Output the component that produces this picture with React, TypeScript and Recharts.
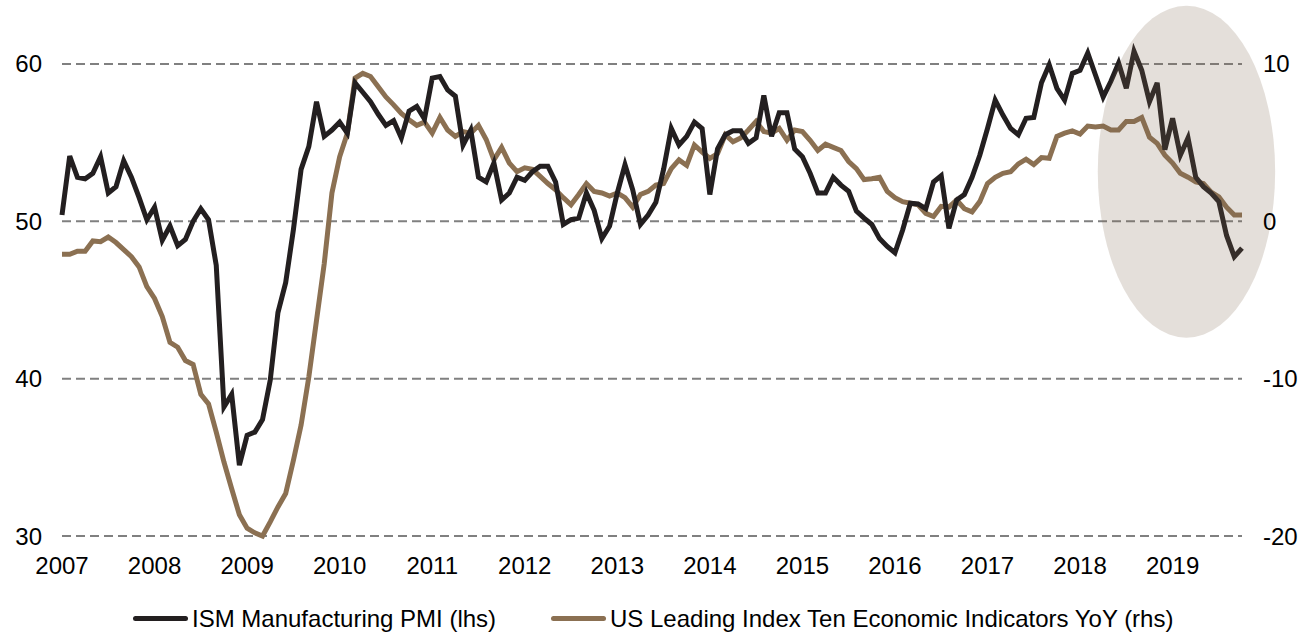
import React from "react";
import { LineChart, Line, XAxis, YAxis, ReferenceLine, ReferenceArea } from "recharts";

// monthly, Jan 2007 .. Oct 2019
const START_YEAR = 2007;
const YEAR_LABELS = ["2007", "2008", "2009", "2010", "2011", "2012", "2013", "2014", "2015", "2016", "2017", "2018", "2019"];

// ISM Manufacturing PMI (lhs)
const pmi = [
  50.4, 54.15, 52.8, 52.7, 53.05, 54.1, 51.8, 52.2, 53.85, 52.8,
  51.5, 50.1, 50.9, 48.8, 49.7, 48.45, 48.85, 50.0, 50.8, 50.1,
  47.2, 38.2, 39.0, 34.5, 36.4, 36.6, 37.4, 39.9, 44.2, 46.1,
  49.45, 53.3, 54.75, 57.6, 55.4, 55.8, 56.3, 55.6, 58.8, 58.2,
  57.6, 56.8, 56.1, 56.4, 55.3, 57.0, 57.3, 56.5, 59.1, 59.2,
  58.35, 57.95, 54.85, 55.8, 52.8, 52.5, 53.7, 51.35, 51.8, 52.8,
  52.6, 53.15, 53.5, 53.5, 52.5, 49.8, 50.1, 50.2, 51.8, 50.7,
  48.9, 49.7, 51.8, 53.6, 52.0, 49.8, 50.4, 51.2, 53.3, 55.9,
  54.85, 55.4, 56.3, 55.9, 51.7, 54.6, 55.5, 55.75, 55.75, 54.95,
  55.3, 58.0, 55.4, 56.9, 56.9, 54.6, 54.1, 53.05, 51.8, 51.8,
  52.8, 52.3, 51.9, 50.65, 50.2, 49.8, 48.9, 48.4, 48.0, 49.45,
  51.15, 51.1, 50.8, 52.5, 52.9, 49.55, 51.35, 51.7, 52.8, 54.2,
  55.9, 57.7, 56.75, 55.9, 55.5, 56.55, 56.6, 58.8, 59.95, 58.45,
  57.7, 59.4, 59.6, 60.7, 59.3, 57.9, 58.9, 60.05, 58.45, 60.8,
  59.6, 57.6, 58.8, 54.55, 56.55, 54.2, 55.3, 52.8, 52.2, 51.8,
  51.25, 49.1, 47.75, 48.3,
];

// US Leading Index Ten Economic Indicators YoY (rhs)
const leading = [
  -2.1, -2.1, -1.9, -1.9, -1.25, -1.3, -1.0, -1.35, -1.8, -2.25,
  -2.9, -4.15, -4.9, -6.05, -7.7, -8.0, -8.85, -9.1, -11.0, -11.6,
  -13.4, -15.3, -17.0, -18.65, -19.5, -19.8, -20.0, -19.1, -18.15, -17.3,
  -15.2, -12.95, -9.9, -6.3, -2.7, 1.8, 4.1, 5.6, 9.1, 9.4,
  9.2, 8.55, 7.9, 7.4, 6.85, 6.45, 6.1, 6.3, 5.6, 6.6,
  5.8, 5.4, 5.7, 5.6, 6.1, 5.2, 3.9, 4.7, 3.7, 3.15,
  3.4, 3.3, 2.85, 2.4, 2.0, 1.5, 1.05, 1.7, 2.4, 1.9,
  1.8, 1.6, 1.8, 1.5, 0.9, 1.7, 1.9, 2.3, 2.4, 3.35,
  3.9, 3.55, 4.85, 4.4, 4.0, 4.3, 5.5, 5.05, 5.3, 5.8,
  6.35, 5.7, 5.6, 5.9, 5.15, 5.8, 5.7, 5.15, 4.5, 4.9,
  4.7, 4.5, 3.8, 3.35, 2.65, 2.7, 2.8, 1.9, 1.5, 1.25,
  1.15, 1.05, 0.5, 0.3, 0.95, 0.9, 1.35, 0.8, 0.6, 1.25,
  2.4, 2.8, 3.05, 3.15, 3.65, 3.95, 3.6, 4.05, 4.0, 5.4,
  5.6, 5.75, 5.55, 6.05, 6.0, 6.05, 5.8, 5.8, 6.35, 6.35,
  6.6, 5.35, 4.95, 4.2, 3.7, 3.05, 2.8, 2.5, 2.4, 1.85,
  1.55, 0.9, 0.4, 0.4,
];

const LEFT_TICKS = [30, 40, 50, 60];
const RIGHT_TICKS = [-20, -10, 0, 10];
const YEAR_TICKS = YEAR_LABELS.map((_, k) => k * 12);

// shaded highlight round the 2018-19 roll-over (month index / lhs units)
const HIGHLIGHT = { x1: 134.3, x2: 157.3, y1: 42.6, y2: 63.7 };

const BLACK = "#231f20";
const TAN = "#8b7052";
const FONT = "'Liberation Sans', Arial, sans-serif";

const data = pmi.map((v, i) => ({ i, pmi: v, leading: leading[i] }));

const Ellipse = (props: any) => {
  const { x, y, width, height } = props;
  return (
    <ellipse
      cx={x + width / 2}
      cy={y + height / 2}
      rx={Math.abs(width) / 2}
      ry={Math.abs(height) / 2}
      fill="#806a4e"
      fillOpacity={0.21}
    />
  );
};

const tickStyle = { fill: "#000", fontSize: 24, fontFamily: FONT };

export default function App() {
  return (
    <div style={{ position: "absolute", left: 0, top: 0, width: 1302, height: 635, background: "#fff", fontFamily: FONT }}>
      <LineChart width={1302} height={635} data={data} margin={{ top: 1, right: 0, left: 0, bottom: 59 }}>
        <XAxis
          type="number"
          dataKey="i"
          domain={[0, 153]}
          ticks={YEAR_TICKS}
          tickFormatter={(t: number) => String(START_YEAR + t / 12)}
          axisLine={false}
          tickLine={false}
          tickSize={0}
          tickMargin={21}
          height={40}
          tick={tickStyle}
          interval={0}
        />
        <YAxis
          yAxisId="left"
          orientation="left"
          domain={[30, 64]}
          ticks={LEFT_TICKS}
          axisLine={false}
          tickLine={false}
          tickSize={0}
          tickMargin={20}
          width={62}
          tick={tickStyle}
          interval={0}
        />
        <YAxis
          yAxisId="right"
          orientation="right"
          domain={[-20, 14]}
          ticks={RIGHT_TICKS}
          axisLine={false}
          tickLine={false}
          tickSize={0}
          tickMargin={21}
          width={60}
          tick={{ ...tickStyle, textAnchor: "start" }}
          interval={0}
        />
        {/* dashed horizontal grid at the lhs ticks */}
        {LEFT_TICKS.map((t) => (
          <ReferenceLine
            key={t}
            yAxisId="left"
            y={t}
            stroke="#808080"
            strokeWidth={2}
            strokeDasharray="9 5"
            zIndex={-100}
          />
        ))}
        <Line
          yAxisId="right"
          type="linear"
          dataKey="leading"
          stroke={TAN}
          strokeWidth={5}
          dot={false}
          activeDot={false}
          isAnimationActive={false}
        />
        <Line
          yAxisId="left"
          type="linear"
          dataKey="pmi"
          stroke={BLACK}
          strokeWidth={5}
          dot={false}
          activeDot={false}
          isAnimationActive={false}
        />
        <ReferenceArea
          yAxisId="left"
          x1={HIGHLIGHT.x1}
          x2={HIGHLIGHT.x2}
          y1={HIGHLIGHT.y1}
          y2={HIGHLIGHT.y2}
          ifOverflow="visible"
          shape={Ellipse}
          zIndex={450}
        />
      </LineChart>

      {/* legend */}
      <div style={{ position: "absolute", left: 133, top: 605, height: 27, display: "flex", alignItems: "center", fontSize: 24, color: "#000" }}>
        <span style={{ width: 55, height: 5, borderRadius: 3, background: BLACK, marginRight: 4 }} />
        <span>ISM Manufacturing PMI (lhs)</span>
      </div>
      <div style={{ position: "absolute", left: 551, top: 605, height: 27, display: "flex", alignItems: "center", fontSize: 24, color: "#000" }}>
        <span style={{ width: 55, height: 5, borderRadius: 3, background: TAN, marginRight: 4 }} />
        <span>US Leading Index Ten Economic Indicators YoY (rhs)</span>
      </div>
    </div>
  );
}
